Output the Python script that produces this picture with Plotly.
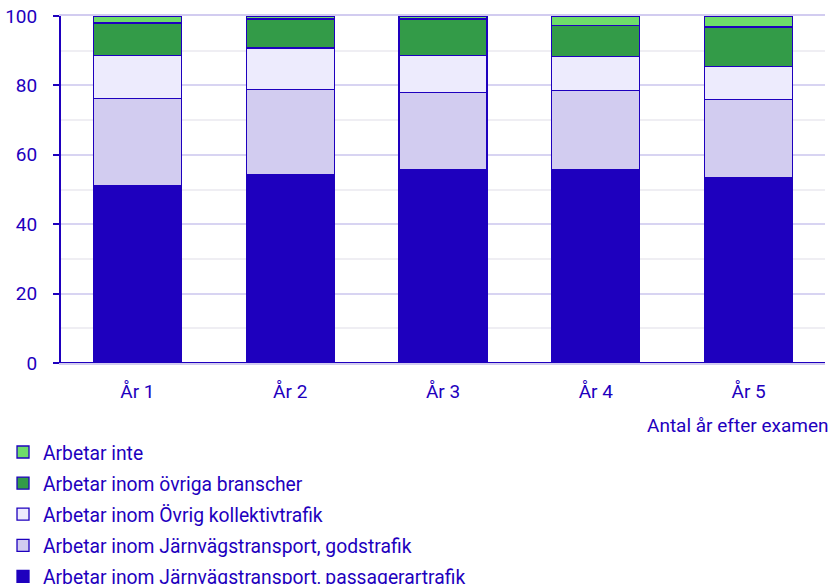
"""
Stacked bar chart: var arbetar man efter examen, år 1-5.
"""

import plotly.graph_objects as go

years = ["År 1", "År 2", "År 3", "År 4", "År 5"]

passagerartrafik = [51.2, 54.3, 55.8, 55.8, 53.5]
godstrafik = [25.1, 24.6, 22.2, 22.8, 22.5]
ovrig_kollektivtrafik = [12.4, 11.9, 10.7, 9.7, 9.5]
ovriga_branscher = [9.3, 8.3, 10.4, 9.0, 11.3]
arbetar_inte = [2.0, 0.9, 0.9, 2.7, 3.2]

series = [
    ("Arbetar inom Järnvägstransport, passagerartrafik", passagerartrafik, "#1e00be"),
    ("Arbetar inom Järnvägstransport, godstrafik", godstrafik, "#d2ccf0"),
    ("Arbetar inom Övrig kollektivtrafik", ovrig_kollektivtrafik, "#edebfd"),
    ("Arbetar inom övriga branscher", ovriga_branscher, "#339b48"),
    ("Arbetar inte", arbetar_inte, "#6edc6a"),
]

TEXT = "#1e00be"
FONT = "Roboto"
FS = 19

fig = go.Figure()
for i, (name, values, color) in enumerate(series):
    fig.add_trace(
        go.Bar(
            x=years,
            y=values,
            name=name,
            legendgroup=f"g{i}",
            legendrank=100 - i,  # top segment listed first
            marker=dict(color=color, line=dict(color="#1e00be", width=1.3)),
            hovertemplate=f"<b>{name}</b><br>%{{x}}: %{{y:.1f}}<extra></extra>",
        )
    )

# x-axis title sits at the right, below the tick labels
fig.add_annotation(
    text="Antal år efter examen",
    x=1.0065, y=-0.179,
    xref="paper", yref="paper",
    xanchor="right", yanchor="middle",
    showarrow=False,
    font=dict(family=FONT, size=FS, color=TEXT),
)

fig.update_layout(
    barmode="stack",
    bargap=0.424,
    width=832,
    height=584,
    plot_bgcolor="white",
    paper_bgcolor="white",
    font=dict(family=FONT, size=FS, color=TEXT),
    margin=dict(l=61, r=7, t=16, b=221, autoexpand=False),
    showlegend=True,
    legend=dict(
        orientation="v",
        traceorder="grouped",
        tracegroupgap=3,
        xref="paper", yref="container",
        x=-0.0759, xanchor="left",
        y=0.2586, yanchor="top",
        font=dict(family=FONT, size=19.3, color=TEXT),
        bgcolor="rgba(0,0,0,0)",
    ),
    xaxis=dict(
        showgrid=False,
        showline=True,
        linecolor="#d2ccf0",
        linewidth=2,
        mirror=True,
        ticks="",
        automargin=False,
        tickfont=dict(family=FONT, size=FS, color=TEXT),
        ticklabelstandoff=10,
    ),
    yaxis=dict(
        range=[0, 100],
        tickvals=[0, 20, 40, 60, 80, 100],
        showgrid=True,
        gridcolor="#d8d4f2",
        gridwidth=2,
        minor=dict(dtick=10, showgrid=True, gridcolor="#efeef3", gridwidth=2),
        showline=True,
        linecolor=TEXT,
        linewidth=2,
        ticks="outside",
        ticklen=6,
        tickwidth=2,
        tickcolor=TEXT,
        zeroline=True,
        zerolinecolor=TEXT,
        zerolinewidth=2,
        automargin=False,
        ticklabeloverflow="allow",
        tickfont=dict(family=FONT, size=FS, color=TEXT),
        ticklabelstandoff=12,
    ),
)

# drop the default 8px body margin so the figure fills the window exactly
fig.write_html(
    "out.html",
    config={"displayModeBar": False},
    post_script="document.body.style.margin = '0';",
)
